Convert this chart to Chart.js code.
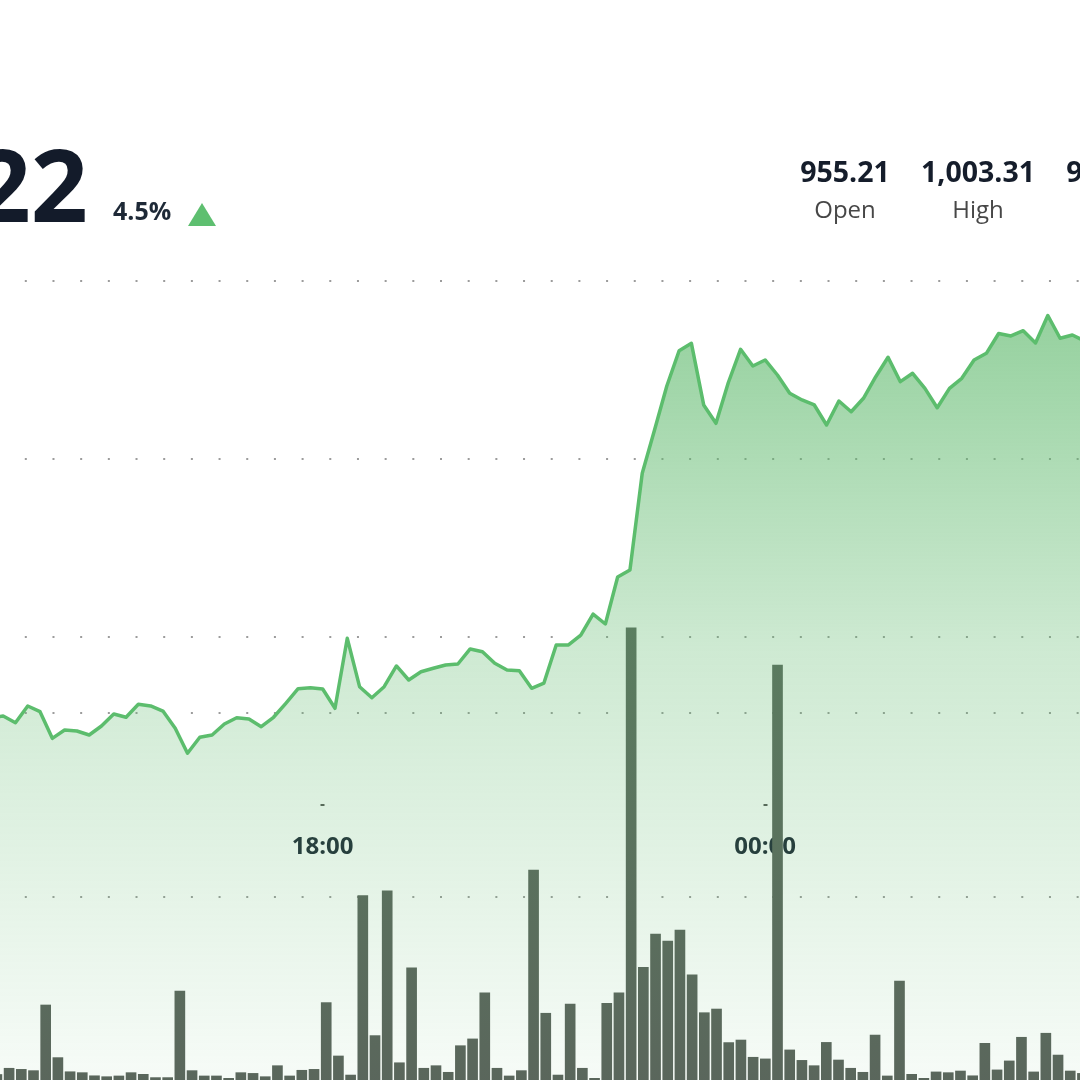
<!DOCTYPE html>
<html>
<head>
<meta charset="utf-8">
<title>Price and volume</title>
<script src="https://cdn.jsdelivr.net/npm/chart.js@4.4.0/dist/chart.umd.min.js"></script>
<style>
  html, body { margin: 0; padding: 0; background: #fff; }
  body { width: 1080px; height: 1080px; overflow: hidden; position: relative; font-family: 'Open Sans', sans-serif; }
  #chart-wrap { position: absolute; left: 0; top: 0; width: 1080px; height: 1080px; }
  .price { position: absolute; right: 992px; top: 133px; font-size: 100px; line-height: 100px; font-weight: 700; color: #131b2a; white-space: nowrap; }
  .change { position: absolute; left: 113px; top: 198px; font-size: 25px; line-height: 25px; font-weight: 700; color: #1e2937; }
  .arrow { position: absolute; left: 188px; top: 203px; width: 0; height: 0; border-left: 14px solid transparent; border-right: 14px solid transparent; border-bottom: 23px solid #5ebf70; }
  .stat-val, .stat-lbl { position: absolute; width: 160px; text-align: center; white-space: nowrap; }
  .stat-val { top: 157px; font-size: 28.5px; line-height: 28px; font-weight: 700; color: #151d2b; }
  .stat-lbl { top: 197px; font-size: 24px; line-height: 24px; color: #474747; }
</style>
</head>
<body>
<div id="chart-wrap"><canvas id="priceChart"></canvas></div>

<div class="price">998.22</div>
<div class="change">4.5%</div>
<div class="arrow"></div>
<div class="stat-val" style="left:765px">955.21</div>
<div class="stat-lbl" style="left:765px">Open</div>
<div class="stat-val" style="left:898px">1,003.31</div>
<div class="stat-lbl" style="left:898px">High</div>
<div class="stat-val" style="left:1031px">946.55</div>
<div class="stat-lbl" style="left:1031px">Low</div>

<script>
// 10 minute candles, 13:30 -> 04:20 next morning
const times = [
    '13:30', '13:40', '13:50', '14:00', '14:10', '14:20', '14:30', '14:40', '14:50',
    '15:00', '15:10', '15:20', '15:30', '15:40', '15:50', '16:00', '16:10', '16:20',
    '16:30', '16:40', '16:50', '17:00', '17:10', '17:20', '17:30', '17:40', '17:50',
    '18:00', '18:10', '18:20', '18:30', '18:40', '18:50', '19:00', '19:10', '19:20',
    '19:30', '19:40', '19:50', '20:00', '20:10', '20:20', '20:30', '20:40', '20:50',
    '21:00', '21:10', '21:20', '21:30', '21:40', '21:50', '22:00', '22:10', '22:20',
    '22:30', '22:40', '22:50', '23:00', '23:10', '23:20', '23:30', '23:40', '23:50',
    '00:00', '00:10', '00:20', '00:30', '00:40', '00:50', '01:00', '01:10', '01:20',
    '01:30', '01:40', '01:50', '02:00', '02:10', '02:20', '02:30', '02:40', '02:50',
    '03:00', '03:10', '03:20', '03:30', '03:40', '03:50', '04:00', '04:10', '04:20'
];

const prices = [
    950.86, 951.08, 950.33, 952.21, 951.57, 948.57, 949.51, 949.40, 948.95,
    949.96, 951.31, 950.94, 952.40, 952.21, 951.64, 949.70, 946.89, 948.69,
    948.95, 950.18, 950.89, 950.75, 949.88, 950.94, 952.51, 954.15, 954.26,
    954.12, 951.95, 959.82, 954.38, 953.14, 954.38, 956.71, 955.13, 956.06,
    956.45, 956.82, 956.93, 958.62, 958.31, 957.01, 956.26, 956.18, 954.20,
    954.79, 959.07, 959.07, 960.19, 962.55, 961.43, 966.71, 967.50, 978.38,
    983.24, 988.19, 992.16, 992.99, 986.06, 984.00, 988.56, 992.32, 990.44,
    991.12, 989.43, 987.37, 986.62, 986.06, 983.81, 986.51, 985.30, 986.81,
    989.24, 991.42, 988.68, 989.62, 987.93, 985.75, 987.93, 989.06, 991.12,
    991.87, 994.10, 993.82, 994.41, 993.03, 996.12, 993.56, 993.93, 993.25
];

const volumes = [
    3.0, 6.4, 5.8, 5.1, 40.9, 12.2, 4.5, 4.0, 2.3,
    1.8, 2.2, 4.0, 3.1, 1.3, 1.3, 48.5, 5.1, 2.2,
    2.2, 0.9, 4.0, 3.6, 1.8, 7.8, 2.2, 5.3, 5.8,
    42.2, 13.1, 2.7, 100.5, 24.2, 103.2, 9.4, 61.2, 6.4,
    7.8, 4.2, 18.7, 22.4, 47.6, 6.4, 2.2, 5.1, 114.5,
    36.4, 2.7, 41.4, 6.4, 0.9, 41.8, 47.6, 246.5, 61.4,
    79.6, 75.8, 81.8, 57.3, 36.7, 38.7, 20.4, 21.8, 12.4,
    11.5, 226.3, 16.4, 10.7, 7.8, 20.5, 10.9, 6.4, 4.2,
    24.5, 2.2, 54.0, 3.1, 0.9, 4.4, 4.0, 4.9, 2.3,
    20.0, 5.5, 10.4, 23.3, 4.4, 25.5, 13.6, 4.9, 3.6
];

const priceTicks = [960, 980, 1000];
const volumeTicks = [100, 200];
const timeTicks = ['18:00', '00:00'];

function toMinutes(label) {
    const [h, m] = label.split(':').map(Number);
    // morning hours belong to the next day
    return (h < 12 ? h + 24 : h) * 60 + m;
}

function toLabel(minutes) {
    const h = Math.floor(minutes / 60) % 24;
    const m = Math.round(minutes % 60);
    return String(h).padStart(2, '0') + ':' + String(m).padStart(2, '0');
}

function areaFill(context) {
    const chart = context.chart;
    const area = chart.chartArea;
    if (!area) return 'rgba(92, 184, 106, 0.3)';
    const g = chart.ctx.createLinearGradient(0, area.top, 0, area.bottom);
    g.addColorStop(0, 'rgba(92, 184, 106, 0.72)');
    g.addColorStop(0.3, 'rgba(92, 184, 106, 0.64)');
    g.addColorStop(0.6, 'rgba(92, 184, 106, 0.30)');
    g.addColorStop(1, 'rgba(92, 184, 106, 0.05)');
    return g;
}

const dotGrid = { color: '#9c9c9c', lineWidth: 2, drawTicks: false };
const dotBorder = { display: false, dash: [2, 25.68], dashOffset: 2.88 };

const pricePoints = times.map((t, i) => ({ x: toMinutes(t), y: prices[i] }));
const volumePoints = times.map((t, i) => ({ x: toMinutes(t), y: volumes[i] }));

new Chart(document.getElementById('priceChart'), {
    data: {
        datasets: [
            {
                type: 'line',
                label: 'Price',
                data: pricePoints,
                xAxisID: 'x',
                yAxisID: 'y',
                order: 0,
                borderColor: '#5cbd6d',
                borderWidth: 3.5,
                borderJoinStyle: 'round',
                pointRadius: 0,
                tension: 0,
                fill: 'start',
                backgroundColor: areaFill
            },
            {
                type: 'bar',
                label: 'Volume',
                data: volumePoints,
                xAxisID: 'xb',
                yAxisID: 'y1',
                order: 1,
                backgroundColor: '#5a625b',
                borderWidth: 0,
                barThickness: 10
            }
        ]
    },
    options: {
        responsive: true,
        maintainAspectRatio: false,
        animation: false,
        devicePixelRatio: 1,
        layout: { padding: 0 },
        plugins: { legend: { display: false }, tooltip: { enabled: false } },
        scales: {
            x: {
                type: 'linear',
                min: 817.43,
                max: 1696.19,
                offset: false,
                position: { y: 941.19 },
                afterBuildTicks: scale => { scale.ticks = timeTicks.map(t => ({ value: toMinutes(t) })); },
                ticks: {
                    autoSkip: false,
                    maxRotation: 0,
                    padding: 27,
                    color: '#1b2433',
                    font: { family: 'Open Sans', size: 24, weight: 'bold' },
                    callback: value => toLabel(value)
                },
                grid: { offset: false, drawOnChartArea: false, drawTicks: true, tickLength: 2, tickWidth: 4, tickColor: '#555' },
                border: { display: false }
            },
            // volume bars run on their own time axis, a touch tighter than the price line
            xb: {
                type: 'linear',
                display: false,
                offset: false,
                grid: { offset: false },
                min: 816.64,
                max: 1702.10
            },
            y: {
                type: 'linear',
                position: 'left',
                min: 910.15,
                max: 1031.60,
                afterBuildTicks: scale => { scale.ticks = priceTicks.map(v => ({ value: v })); },
                ticks: { display: false },
                grid: dotGrid,
                border: dotBorder
            },
            y1: {
                type: 'linear',
                position: 'right',
                min: 0,
                max: 588.9,
                afterBuildTicks: scale => { scale.ticks = volumeTicks.map(v => ({ value: v })); },
                ticks: { display: false },
                grid: dotGrid,
                border: dotBorder
            }
        }
    }
});
</script>
</body>
</html>
